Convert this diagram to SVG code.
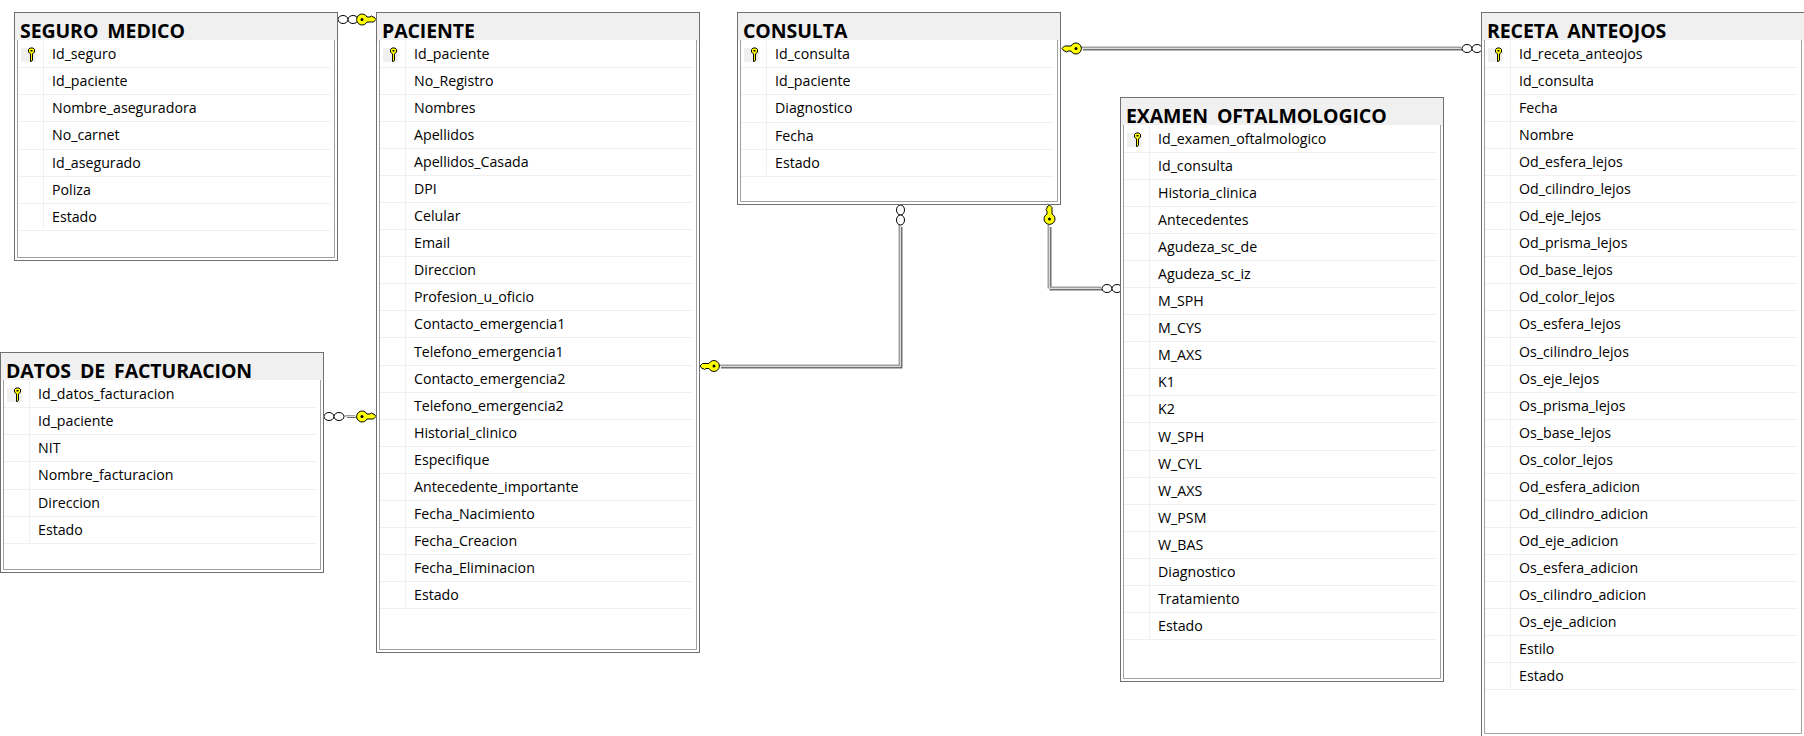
<svg xmlns="http://www.w3.org/2000/svg" xmlns:xlink="http://www.w3.org/1999/xlink" width="1804" height="736" viewBox="0 0 1804 736">
<style>
text{font-family:"Open Sans","Noto Sans","Liberation Sans",sans-serif;fill:#000}
.t{font-size:19.5px;font-weight:700;word-spacing:4px;letter-spacing:-.1px}
.f{font-size:14.2px}
.outer{fill:#fff;stroke:#707070;stroke-width:1}
.inner{fill:#fff;stroke:#a0a0a0;stroke-width:1}
.band{fill:#f0f0f0}
.sep{stroke:#f0f0f0;stroke-width:1;fill:none}
.cell{fill:#f0f0f0}
.ky{fill:#ff0;stroke:#000;stroke-width:1;stroke-linejoin:round}
.kd{fill:#000}
.ring{fill:#fff;stroke:#000;stroke-width:1}
.cd{fill:none;stroke:#707070;stroke-width:2;transform:translate(1px,1px)}
.cl{fill:none;stroke:#a0a0a0;stroke-width:2;transform:translate(-1px,-1px)}
.cm{fill:none;stroke:#dcdcdc;stroke-width:1}
</style>
<defs>
<g id="pk"><path class="ky" d="M-3,-5.5 L-1.5,-7 H1.5 L3,-5.5 V-3 L1,-1 V5 L0,6.5 H-1 V-1 L-3,-3 Z" stroke-width=".8"/><rect class="kd" x="-1" y="-5" width="2" height="1.5"/></g>
<g id="fk"><path class="ky" d="M-14,0 L-11.5,-2.5 H-5 A5.5,5.5 0 1 1 -5,2.5 H-8 L-9.5,3.5 L-11,2.5 H-12 Z"/><circle class="kd" cx="0" cy="0" r="1.5"/></g>
<g id="many"><ellipse class="ring" cx="-5" cy="0" rx="5" ry="4"/><ellipse class="ring" cx="5" cy="0" rx="5" ry="4"/></g>
</defs>

<g id="connectors">
<g id="rel-seguro-paciente"><use href="#many" transform="translate(348,19.5)"/><use href="#fk" transform="translate(362,19.5) rotate(180)"/></g>
<g id="rel-datos-paciente"><path class="cd" d="M346,416H356"/><path class="cl" d="M346,417H356"/><path class="cm" d="M346,416.5H356"/><use href="#many" transform="translate(334,416.5)"/><use href="#fk" transform="translate(362,416.5) rotate(180)"/></g>
<g id="rel-consulta-receta"><path class="cd" d="M1082,48.5H1462"/><path class="cl" d="M1082,48.5H1462"/><path class="cm" d="M1082,48.5H1462"/><use href="#fk" transform="translate(1076,48.5)"/><use href="#many" transform="translate(1472,48.5)"/></g>
<g id="rel-consulta-paciente"><path class="cd" d="M900.5,226V366.5H720"/><path class="cl" d="M900.5,226V366.5H720"/><path class="cm" d="M900.5,226V366.5H720"/><use href="#many" transform="translate(900.5,215) rotate(90)"/><use href="#fk" transform="translate(714,366)"/></g>
<g id="rel-consulta-examen"><path class="cd" d="M1049.5,226V288.5H1102"/><path class="cl" d="M1049.5,226V288.5H1102"/><path class="cm" d="M1049.5,226V288.5H1102"/><use href="#fk" transform="translate(1049.5,219) rotate(90)"/><use href="#many" transform="translate(1112,288.5)"/></g>
</g>

<g id="seguro_medico" transform="translate(14,12)">
<rect class="outer" x=".5" y=".5" width="323" height="248"/><rect class="band" x="1" y="1" width="322" height="28"/>
<path class="inner" d="M3.5,28V245.5H320.5V28" />
<text class="t" x="6" y="26">SEGURO MEDICO</text>
<path class="sep" d="M4,55.5H317M4,82.5H317M4,109.5H317M4,137.5H317M4,164.5H317M4,191.5H317M4,218.5H317M29.5,29V217"/>
<rect class="cell" x="7" y="36" width="15" height="14"/><use href="#pk" transform="translate(17.5,43)"/>
<text class="f" x="38" y="47">Id_seguro</text><text class="f" x="38" y="74">Id_paciente</text><text class="f" x="38" y="101">Nombre_aseguradora</text><text class="f" x="38" y="128">No_carnet</text><text class="f" x="38" y="156">Id_asegurado</text><text class="f" x="38" y="183">Poliza</text><text class="f" x="38" y="210">Estado</text>
</g>

<g id="datos_facturacion" transform="translate(0,352)">
<rect class="outer" x=".5" y=".5" width="323" height="220"/><rect class="band" x="1" y="1" width="322" height="28"/>
<path class="inner" d="M3.5,28V217.5H320.5V28"/>
<text class="t" x="6" y="26">DATOS DE FACTURACION</text>
<path class="sep" d="M4,55.5H317M4,82.5H317M4,109.5H317M4,137.5H317M4,164.5H317M4,191.5H317M29.5,29V190"/>
<rect class="cell" x="7" y="36" width="15" height="14"/><use href="#pk" transform="translate(17.5,43)"/>
<text class="f" x="38" y="47">Id_datos_facturacion</text><text class="f" x="38" y="74">Id_paciente</text><text class="f" x="38" y="101">NIT</text><text class="f" x="38" y="128">Nombre_facturacion</text><text class="f" x="38" y="156">Direccion</text><text class="f" x="38" y="183">Estado</text>
</g>

<g id="paciente" transform="translate(376,12)">
<rect class="outer" x=".5" y=".5" width="323" height="640"/><rect class="band" x="1" y="1" width="322" height="28"/>
<path class="inner" d="M3.5,28V637.5H320.5V28"/>
<text class="t" x="6" y="26">PACIENTE</text>
<path class="sep" d="M4,55.5H317M4,82.5H317M4,109.5H317M4,136.5H317M4,163.5H317M4,190.5H317M4,217.5H317M4,244.5H317M4,271.5H317M4,298.5H317M4,325.5H317M4,353.5H317M4,380.5H317M4,407.5H317M4,434.5H317M4,461.5H317M4,488.5H317M4,515.5H317M4,542.5H317M4,569.5H317M4,596.5H317M29.5,29V595"/>
<rect class="cell" x="7" y="36" width="15" height="14"/><use href="#pk" transform="translate(17.5,43)"/>
<text class="f" x="38" y="47">Id_paciente</text><text class="f" x="38" y="74">No_Registro</text><text class="f" x="38" y="101">Nombres</text><text class="f" x="38" y="128">Apellidos</text><text class="f" x="38" y="155">Apellidos_Casada</text><text class="f" x="38" y="182">DPI</text><text class="f" x="38" y="209">Celular</text><text class="f" x="38" y="236">Email</text><text class="f" x="38" y="263">Direccion</text><text class="f" x="38" y="290">Profesion_u_oficio</text><text class="f" x="38" y="317">Contacto_emergencia1</text><text class="f" x="38" y="345">Telefono_emergencia1</text><text class="f" x="38" y="372">Contacto_emergencia2</text><text class="f" x="38" y="399">Telefono_emergencia2</text><text class="f" x="38" y="426">Historial_clinico</text><text class="f" x="38" y="453">Especifique</text><text class="f" x="38" y="480">Antecedente_importante</text><text class="f" x="38" y="507">Fecha_Nacimiento</text><text class="f" x="38" y="534">Fecha_Creacion</text><text class="f" x="38" y="561">Fecha_Eliminacion</text><text class="f" x="38" y="588">Estado</text>
</g>

<g id="consulta" transform="translate(737,12)">
<rect class="outer" x=".5" y=".5" width="323" height="192"/><rect class="band" x="1" y="1" width="322" height="28"/>
<path class="inner" d="M3.5,28V189.5H320.5V28"/>
<text class="t" x="6" y="26">CONSULTA</text>
<path class="sep" d="M4,55.5H317M4,82.5H317M4,110.5H317M4,137.5H317M4,164.5H317M29.5,29V163"/>
<rect class="cell" x="7" y="36" width="15" height="14"/><use href="#pk" transform="translate(17.5,43)"/>
<text class="f" x="38" y="47">Id_consulta</text><text class="f" x="38" y="74">Id_paciente</text><text class="f" x="38" y="101">Diagnostico</text><text class="f" x="38" y="129">Fecha</text><text class="f" x="38" y="156">Estado</text>
</g>

<g id="examen_oftalmologico" transform="translate(1120,97)">
<rect class="outer" x=".5" y=".5" width="323" height="584"/><rect class="band" x="1" y="1" width="322" height="28"/>
<path class="inner" d="M3.5,28V581.5H320.5V28"/>
<text class="t" x="6" y="26">EXAMEN OFTALMOLOGICO</text>
<path class="sep" d="M4,55.5H317M4,82.5H317M4,109.5H317M4,136.5H317M4,163.5H317M4,190.5H317M4,217.5H317M4,244.5H317M4,271.5H317M4,298.5H317M4,325.5H317M4,353.5H317M4,380.5H317M4,407.5H317M4,434.5H317M4,461.5H317M4,488.5H317M4,515.5H317M4,542.5H317M29.5,29V541"/>
<rect class="cell" x="7" y="36" width="15" height="14"/><use href="#pk" transform="translate(17.5,43)"/>
<text class="f" x="38" y="47">Id_examen_oftalmologico</text><text class="f" x="38" y="74">Id_consulta</text><text class="f" x="38" y="101">Historia_clinica</text><text class="f" x="38" y="128">Antecedentes</text><text class="f" x="38" y="155">Agudeza_sc_de</text><text class="f" x="38" y="182">Agudeza_sc_iz</text><text class="f" x="38" y="209">M_SPH</text><text class="f" x="38" y="236">M_CYS</text><text class="f" x="38" y="263">M_AXS</text><text class="f" x="38" y="290">K1</text><text class="f" x="38" y="317">K2</text><text class="f" x="38" y="345">W_SPH</text><text class="f" x="38" y="372">W_CYL</text><text class="f" x="38" y="399">W_AXS</text><text class="f" x="38" y="426">W_PSM</text><text class="f" x="38" y="453">W_BAS</text><text class="f" x="38" y="480">Diagnostico</text><text class="f" x="38" y="507">Tratamiento</text><text class="f" x="38" y="534">Estado</text>
</g>

<g id="receta_anteojos" transform="translate(1481,12)">
<rect class="outer" x=".5" y=".5" width="323" height="724"/><rect class="band" x="1" y="1" width="322" height="28"/>
<path class="inner" d="M3.5,28V721.5H320.5V28"/>
<text class="t" x="6" y="26">RECETA ANTEOJOS</text>
<path class="sep" d="M4,55.5H317M4,82.5H317M4,109.5H317M4,136.5H317M4,163.5H317M4,190.5H317M4,217.5H317M4,244.5H317M4,271.5H317M4,298.5H317M4,325.5H317M4,353.5H317M4,380.5H317M4,407.5H317M4,434.5H317M4,461.5H317M4,488.5H317M4,515.5H317M4,542.5H317M4,569.5H317M4,596.5H317M4,623.5H317M4,650.5H317M4,677.5H317M29.5,29V676"/>
<rect class="cell" x="7" y="36" width="15" height="14"/><use href="#pk" transform="translate(17.5,43)"/>
<text class="f" x="38" y="47">Id_receta_anteojos</text><text class="f" x="38" y="74">Id_consulta</text><text class="f" x="38" y="101">Fecha</text><text class="f" x="38" y="128">Nombre</text><text class="f" x="38" y="155">Od_esfera_lejos</text><text class="f" x="38" y="182">Od_cilindro_lejos</text><text class="f" x="38" y="209">Od_eje_lejos</text><text class="f" x="38" y="236">Od_prisma_lejos</text><text class="f" x="38" y="263">Od_base_lejos</text><text class="f" x="38" y="290">Od_color_lejos</text><text class="f" x="38" y="317">Os_esfera_lejos</text><text class="f" x="38" y="345">Os_cilindro_lejos</text><text class="f" x="38" y="372">Os_eje_lejos</text><text class="f" x="38" y="399">Os_prisma_lejos</text><text class="f" x="38" y="426">Os_base_lejos</text><text class="f" x="38" y="453">Os_color_lejos</text><text class="f" x="38" y="480">Od_esfera_adicion</text><text class="f" x="38" y="507">Od_cilindro_adicion</text><text class="f" x="38" y="534">Od_eje_adicion</text><text class="f" x="38" y="561">Os_esfera_adicion</text><text class="f" x="38" y="588">Os_cilindro_adicion</text><text class="f" x="38" y="615">Os_eje_adicion</text><text class="f" x="38" y="642">Estilo</text><text class="f" x="38" y="669">Estado</text>
</g>
</svg>
